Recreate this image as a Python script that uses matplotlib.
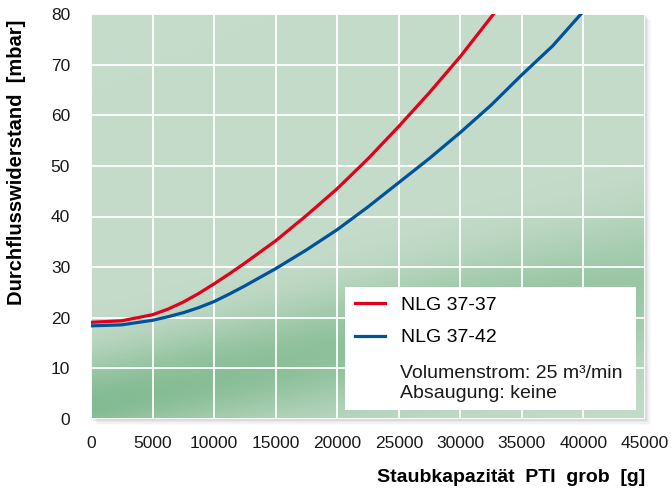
import numpy as np
import matplotlib.pyplot as plt
from matplotlib.patches import Rectangle
from matplotlib.lines import Line2D

plt.rcParams['font.family'] = ['Liberation Sans', 'DejaVu Sans']

# data
x_red = [0, 2500, 5000, 6250, 7500, 8750, 10000, 11250, 12500, 15000, 17500, 20000,
         22500, 25000, 27500, 30000, 32700]
y_red = [19.1, 19.4, 20.6, 21.7, 23.1, 24.8, 26.7, 28.7, 30.8, 35.2, 40.2, 45.5,
         51.4, 57.8, 64.5, 71.6, 80.0]

x_blue = [0, 2500, 5000, 6250, 7500, 8750, 10000, 11250, 12500, 15000, 17500, 20000,
          22500, 25000, 27500, 30000, 32500, 35000, 37500, 39800]
y_blue = [18.4, 18.6, 19.5, 20.2, 21.0, 22.0, 23.2, 24.7, 26.3, 29.7, 33.4, 37.4,
          41.9, 46.7, 51.5, 56.6, 62.0, 68.0, 73.7, 80.0]

labels = ['NLG 37-37', 'NLG 37-42']
colors = ['#e3001b', '#00529b']
note = 'Volumenstrom: 25 m³/min\nAbsaugung: keine'
xticks = list(range(0, 45001, 5000))
yticks = list(range(0, 81, 10))

fig = plt.figure(figsize=(6.72, 4.88), dpi=100)
ax = fig.add_axes([91 / 672, 1 - 419 / 488, 554 / 672, 405 / 488])

# soft shadow behind the plot area
for i, a in enumerate([0.05, 0.04, 0.03, 0.02]):
    d = (i + 1) * 1.5
    fig.patches.append(Rectangle(((91 + d) / 672, (69 - d) / 488), 554 / 672, 405 / 488,
                                 transform=fig.transFigure, color='black', alpha=a,
                                 zorder=-1, lw=0))

# green background with darker band
u = np.linspace(0, 1, 300)
v = np.linspace(0, 1, 300)
U, V = np.meshgrid(u, v)
centre = 0.03 + 0.30 * U
dist = V - centre
w = np.where(dist > 0, 0.13 + 0.05 * U, 0.10 + 0.10 * U)
band = np.exp(-(dist / w) ** 2)
band *= 0.95 - 0.35 * U
light = np.array([198, 220, 203]) / 255
dark = np.array([128, 185, 143]) / 255
img = light[None, None, :] * (1 - band[..., None]) + dark[None, None, :] * band[..., None]
ax.imshow(img, origin='lower', extent=[0, 45000, 0, 80], aspect='auto', zorder=0)

ax.plot(x_red, y_red, color=colors[0], lw=2.3, zorder=3)
ax.plot(x_blue, y_blue, color=colors[1], lw=2.3, zorder=3)

ax.set_xlim(0, 45000)
ax.set_ylim(0, 80)
ax.set_xticks(xticks)
ax.set_yticks(yticks)
ax.tick_params(length=0, labelsize=12.5, colors='#1a1a1a')
ax.tick_params(axis='x', pad=12)
ax.tick_params(axis='y', pad=15)
ax.set_axisbelow(True)
ax.grid(color='white', lw=1.3)
for s in ax.spines.values():
    s.set_visible(False)

ax.set_xlabel('Staubkapazität  PTI  grob  [g]', fontsize=14, fontweight='bold',
              loc='right', labelpad=13)
ax.set_ylabel('Durchflusswiderstand  [mbar]', fontsize=14.5, fontweight='bold',
              loc='top')
ax.yaxis.set_label_coords(-0.118, 0.985)

# legend box
ax.add_patch(Rectangle((0.458, 0.022), 0.526, 0.304, transform=ax.transAxes,
                       facecolor='white', edgecolor='none', zorder=4))
handles = [Line2D([], [], color=c, lw=2.3) for c in colors]
leg = ax.legend(handles, labels, loc='upper left', bbox_to_anchor=(0.4765, 0.302),
                frameon=False, fontsize=14, handlelength=1.55, handletextpad=0.8,
                labelspacing=0.75, borderpad=0, borderaxespad=0)
leg.set_zorder(5)
ax.text(0.558, 0.087, note, transform=ax.transAxes, fontsize=14, va='center',
        ha='left', linespacing=1.2, zorder=6, color='#1a1a1a')

fig.savefig('out.png', dpi=100)
